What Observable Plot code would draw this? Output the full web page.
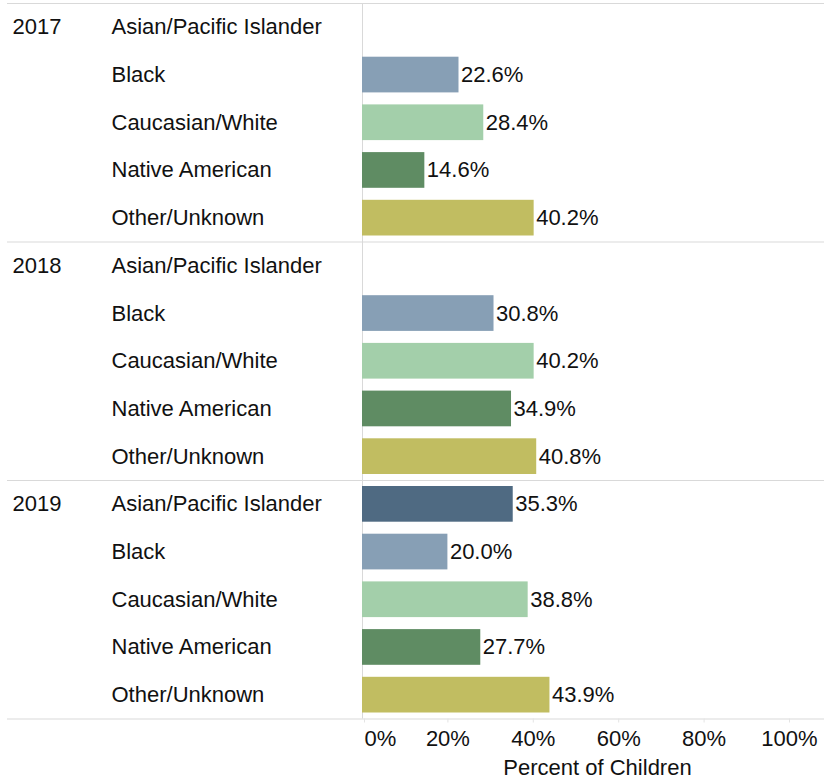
<!DOCTYPE html>
<html>
<head>
<meta charset="utf-8">
<script src="https://cdn.jsdelivr.net/npm/d3@7"></script>
<script src="https://cdn.jsdelivr.net/npm/@observablehq/plot@0.6"></script>
<style>
  html, body { margin: 0; padding: 0; background: #fff; }
  #chart svg { display: block; }
</style>
</head>
<body>
<div id="chart"></div>
<script>
const years = ["2017", "2018", "2019"];
const categories = ["Asian/Pacific Islander", "Black", "Caucasian/White", "Native American", "Other/Unknown"];
const values2017 = [null, 22.6, 28.4, 14.6, 40.2];
const values2018 = [null, 30.8, 40.2, 34.9, 40.8];
const values2019 = [35.3, 20.0, 38.8, 27.7, 43.9];
const tickValues = [0, 20, 40, 60, 80, 100];
const axisTitle = "Percent of Children";
const colors = ["#4f6a82", "#879fb5", "#a3cfaa", "#5f8c63", "#c1bd61"];

const seriesByYear = [values2017, values2018, values2019];
const nCat = categories.length;
const rows = years.flatMap((yr, yi) => categories.map((c, ci) => ({
  year: yr, category: c, value: seriesByYear[yi][ci], row: yi * nCat + ci, first: ci === 0
})));
const bars = rows.filter(d => d.value != null);
const boundaries = d3.range(years.length + 1).map(i => i * nCat);
const nRows = years.length * nCat;

const W = 824, H = 781, ML = 362, MT = 3, MB = 62.5;
const font = "'Liberation Sans', Arial, sans-serif";
const fs = 22;

const chart = Plot.plot({
  width: W,
  height: H,
  marginLeft: ML,
  marginRight: 0,
  marginTop: MT,
  marginBottom: MB,
  style: { fontFamily: font, fontSize: fs + "px", color: "#111", background: "#fff" },
  x: { domain: [0, 108.2] },
  y: { domain: [0, nRows], range: [MT, H - MB], axis: null },
  color: { domain: categories, range: colors },
  marks: [
    Plot.ruleY(boundaries, { y: d => d, stroke: "#d9d9d9", strokeWidth: 1, insetLeft: 7 - ML }),
    Plot.ruleX([0], { x: d => d, y1: 0, y2: nRows, stroke: "#d9d9d9", strokeWidth: 1 }),
    Plot.rect(bars, {
      x1: 0, x2: "value", y1: "row", y2: d => d.row + 1,
      fill: "category", insetTop: 6, insetBottom: 6
    }),
    Plot.text(bars, {
      x: "value", y: d => d.row + 0.5, text: d => d.value.toFixed(1) + "%",
      textAnchor: "start", dx: 2, fontSize: fs, fill: "#111"
    }),
    Plot.text(rows, {
      y: d => d.row + 0.5, text: "category", frameAnchor: "left",
      textAnchor: "start", dx: 111 - ML, fontSize: fs, fill: "#111"
    }),
    Plot.text(rows.filter(d => d.first), {
      y: d => d.row + 0.5, text: "year", frameAnchor: "left",
      textAnchor: "start", dx: 12 - ML, fontSize: fs, fill: "#111"
    }),
    Plot.axisX(tickValues.slice(1), {
      tickSize: 4, tickPadding: 7, tickFormat: d => d + "%", stroke: "#e4e4e4",
      fontSize: fs, label: null, fill: "#111"
    }),
    Plot.axisX(tickValues.slice(0, 1), {
      tickSize: 4, tickPadding: 7, tickFormat: d => d + "%", stroke: "#e4e4e4",
      fontSize: fs, label: null, textAnchor: "start", dx: 2, fill: "#111"
    }),
    Plot.text([axisTitle], {
      text: d => d, frameAnchor: "bottom", dy: 56, dx: 4, fontSize: fs, fill: "#111"
    })
  ]
});
document.getElementById("chart").appendChild(chart);
</script>
</body>
</html>
